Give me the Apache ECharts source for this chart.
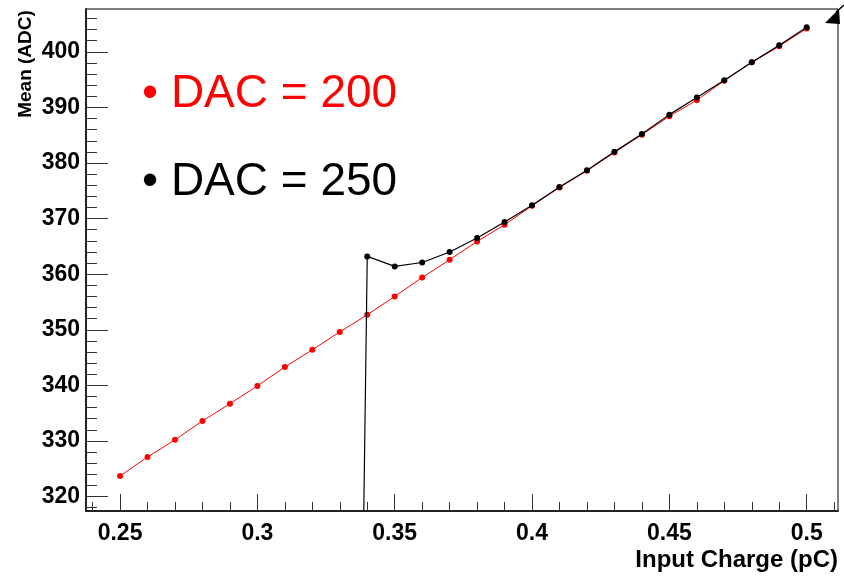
<!DOCTYPE html>
<html>
<head>
<meta charset="utf-8">
<script src="https://cdn.jsdelivr.net/npm/echarts@6/dist/echarts.min.js"></script>
<style>
  html, body { margin: 0; padding: 0; background: #fff; }
  #chart { width: 844px; height: 580px; }
</style>
</head>
<body>
<div id="chart"></div>
<script>
// Mean ADC vs input charge, two DAC settings
const charge200 = [0.25, 0.26, 0.27, 0.28, 0.29, 0.30, 0.31, 0.32, 0.33, 0.34, 0.35, 0.36, 0.37,
    0.38, 0.39, 0.40, 0.41, 0.42, 0.43, 0.44, 0.45, 0.46, 0.47, 0.48, 0.49, 0.50];
const mean200 = [323.7, 327.1, 330.2, 333.6, 336.7, 339.9, 343.3, 346.4, 349.6, 352.7, 356.0, 359.4, 362.6,
    365.9, 368.9, 372.3, 375.6, 378.6, 381.9, 385.1, 388.4, 391.3, 394.8, 398.1, 401.0, 404.2];

const charge250 = [0.33, 0.34, 0.35, 0.36, 0.37, 0.38, 0.39, 0.40, 0.41, 0.42, 0.43, 0.44, 0.45,
    0.46, 0.47, 0.48, 0.49, 0.50];
const mean250 = [0, 363.2, 361.4, 362.1, 364.0, 366.5, 369.4, 372.4, 375.7, 378.7, 382.0, 385.2, 388.7,
    391.8, 394.9, 398.1, 401.2, 404.4];

const xLabels = [0.25, 0.3, 0.35, 0.4, 0.45, 0.5];
const yLabels = [320, 330, 340, 350, 360, 370, 380, 390, 400];

const xMinor = [];
for (let i = 24; i <= 51; i++) xMinor.push(i / 100);
const yMinor = [];
for (let v = 318; v <= 406; v += 2) yMinor.push(v);

const font = "'Liberation Sans', Arial, Helvetica, sans-serif";
const zip = (xs, ys) => xs.map((x, i) => [x, ys[i]]);

const chart = echarts.init(document.getElementById('chart'));

const xMin = 0.2376, xMax = 0.5114;
const yMin = 317.4, yMax = 407.7;

const option = {
    animation: false,
    grid: {
        left: 86, top: 9, right: 6, bottom: 69,
        show: true, borderColor: '#000', borderWidth: 1
    },
    xAxis: [{
        type: 'value', min: xMin, max: xMax,
        axisLine: { show: true, lineStyle: { color: '#222', width: 2 } },
        axisTick: { show: true, inside: true, length: 17, customValues: xLabels, lineStyle: { color: '#333', width: 1 } },
        axisLabel: { customValues: xLabels, color: '#000', fontFamily: font, fontWeight: 'bold', fontSize: 23, margin: 11 },
        splitLine: { show: false }
    }, {
        type: 'value', min: xMin, max: xMax, position: 'bottom',
        axisLine: { show: false },
        axisTick: { show: true, inside: true, length: 9, customValues: xMinor, lineStyle: { color: '#333', width: 1 } },
        axisLabel: { show: false },
        splitLine: { show: false }
    }],
    yAxis: [{
        type: 'value', min: yMin, max: yMax,
        axisLine: { show: true, lineStyle: { color: '#222', width: 2 } },
        axisTick: { show: true, inside: true, length: 22, customValues: yLabels, lineStyle: { color: '#333', width: 1 } },
        axisLabel: { customValues: yLabels, color: '#000', fontFamily: font, fontWeight: 'bold', fontSize: 23, margin: 6 },
        splitLine: { show: false }
    }, {
        type: 'value', min: yMin, max: yMax, position: 'left',
        axisLine: { show: false },
        axisTick: { show: true, inside: true, length: 11, customValues: yMinor, lineStyle: { color: '#333', width: 1 } },
        axisLabel: { show: false },
        splitLine: { show: false }
    }],
    series: [{
        name: 'DAC = 200',
        type: 'line',
        data: zip(charge200, mean200),
        symbol: 'circle', symbolSize: 6,
        itemStyle: { color: '#ff0000' },
        lineStyle: { color: '#ff0000', width: 1 },
        z: 2
    }, {
        name: 'DAC = 250',
        type: 'line',
        data: zip(charge250, mean250),
        symbol: 'circle', symbolSize: 6,
        itemStyle: { color: '#000' },
        lineStyle: { color: '#000', width: 1.2 },
        z: 3
    }],
    graphic: [{
        type: 'text', left: 142, top: 71,
        style: { text: '\u2022 DAC = 200', fill: '#ff0000', font: '46px ' + font }
    }, {
        type: 'text', left: 142, top: 159,
        style: { text: '\u2022 DAC = 250', fill: '#000', font: '46px ' + font }
    }, {
        type: 'text', x: 26, y: 64, rotation: Math.PI / 2,
        style: { text: 'Mean (ADC)', fill: '#000', font: 'bold 19px ' + font, align: 'center', verticalAlign: 'middle' }
    }, {
        type: 'text', right: 6, top: 548,
        style: { text: 'Input Charge (pC)', fill: '#000', font: 'bold 24px ' + font }
    }, {
        type: 'polygon',
        shape: { points: [[825, 23], [839, 9], [840, 24]] },
        style: { fill: '#000' }
    }, {
        type: 'line',
        shape: { x1: 836, y1: 12, x2: 844, y2: 5 },
        style: { stroke: '#000', lineWidth: 1.5 }
    }]
};

chart.setOption(option);
</script>
</body>
</html>
